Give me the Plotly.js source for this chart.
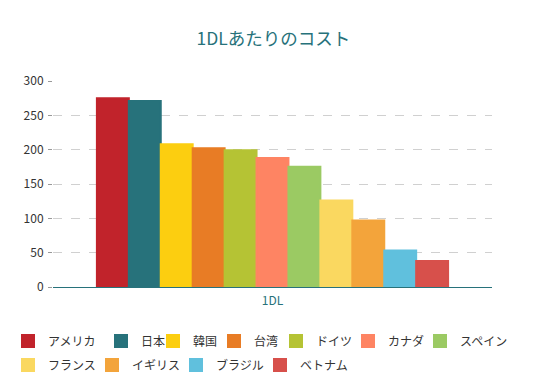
<!DOCTYPE html>
<html><head><meta charset="utf-8">
<script src="https://cdn.plot.ly/plotly-3.0.1.min.js"></script>
<style>html,body{margin:0;padding:0;background:#fff}#chart{width:547px;height:387px}</style>
</head><body><div id="chart"></div>
<script>
const category = ['1DL'];
const countries = ['アメリカ','日本','韓国','台湾','ドイツ','カナダ','スペイン','フランス','イギリス','ブラジル','ベトナム'];
const costs = [275, 271, 208, 202, 199, 188, 175, 126, 97, 53, 38];
const colors = ['#C1232B','#27727B','#FCCE10','#E87C25','#B5C334','#FE8463','#9BCA63','#FAD860','#F3A43B','#60C0DD','#D7504B'];
const yTicks = [0, 50, 100, 150, 200, 250, 300];

// legend entry placement (text start x, row centre y), in pixels of the page
const legendTextX = [47, 140, 192, 253, 315, 387, 459, 47, 131, 215, 299];
const legendRowY  = [341, 341, 341, 341, 341, 341, 341, 365, 365, 365, 365];

const W = 547, H = 387;
const font = '"Noto Sans CJK JP", "Noto Sans", sans-serif';
const traces = countries.map((c, i) => ({
  type: 'bar', name: c, x: category, y: [costs[i]],
  marker: {color: colors[i], line: {width: 2, color: colors[i]}},
  legend: i === 0 ? 'legend' : 'legend' + (i + 1),
  hoverinfo: 'skip'
}));

const layout = {
  width: W, height: H,
  margin: {l: 53, r: 55, t: 81, b: 100},
  paper_bgcolor: '#fff', plot_bgcolor: '#fff',
  title: {text: '1DLあたりのコスト', font: {family: font, size: 17.5, color: '#27727B'}, x: 0.5, xanchor: 'center', y: 0.9, yref: 'container', yanchor: 'middle'},
  barmode: 'group', bargap: 0.2, bargroupgap: 0,
  xaxis: {showgrid: false, zeroline: false, showline: true, linecolor: '#27727B', linewidth: 1,
    tickfont: {family: font, size: 12, color: '#27727B'}, ticks: '', ticklabelstandoff: 3, fixedrange: true},
  yaxis: {range: [0, 300], tickvals: yTicks, showgrid: true, gridcolor: '#d0d0d0', griddash: 'dash', gridwidth: 1,
    zeroline: false, showline: false, ticks: 'outside', ticklen: 4, tickcolor: '#999', ticklabelstandoff: 2,
    tickfont: {family: font, size: 12, color: '#333'}, fixedrange: true},
  showlegend: true
};
countries.forEach((c, i) => {
  const key = i === 0 ? 'legend' : 'legend' + (i + 1);
  layout[key] = {
    orientation: 'h', xref: 'container', yref: 'container',
    x: (legendTextX[i] - 39) / W, y: 1 - legendRowY[i] / H, xanchor: 'left', yanchor: 'middle',
    font: {family: font, size: 12, color: '#333'}, bgcolor: 'rgba(0,0,0,0)', borderwidth: 0
  };
});
Plotly.newPlot('chart', traces, layout, {displayModeBar: false, staticPlot: true});
</script></body></html>
